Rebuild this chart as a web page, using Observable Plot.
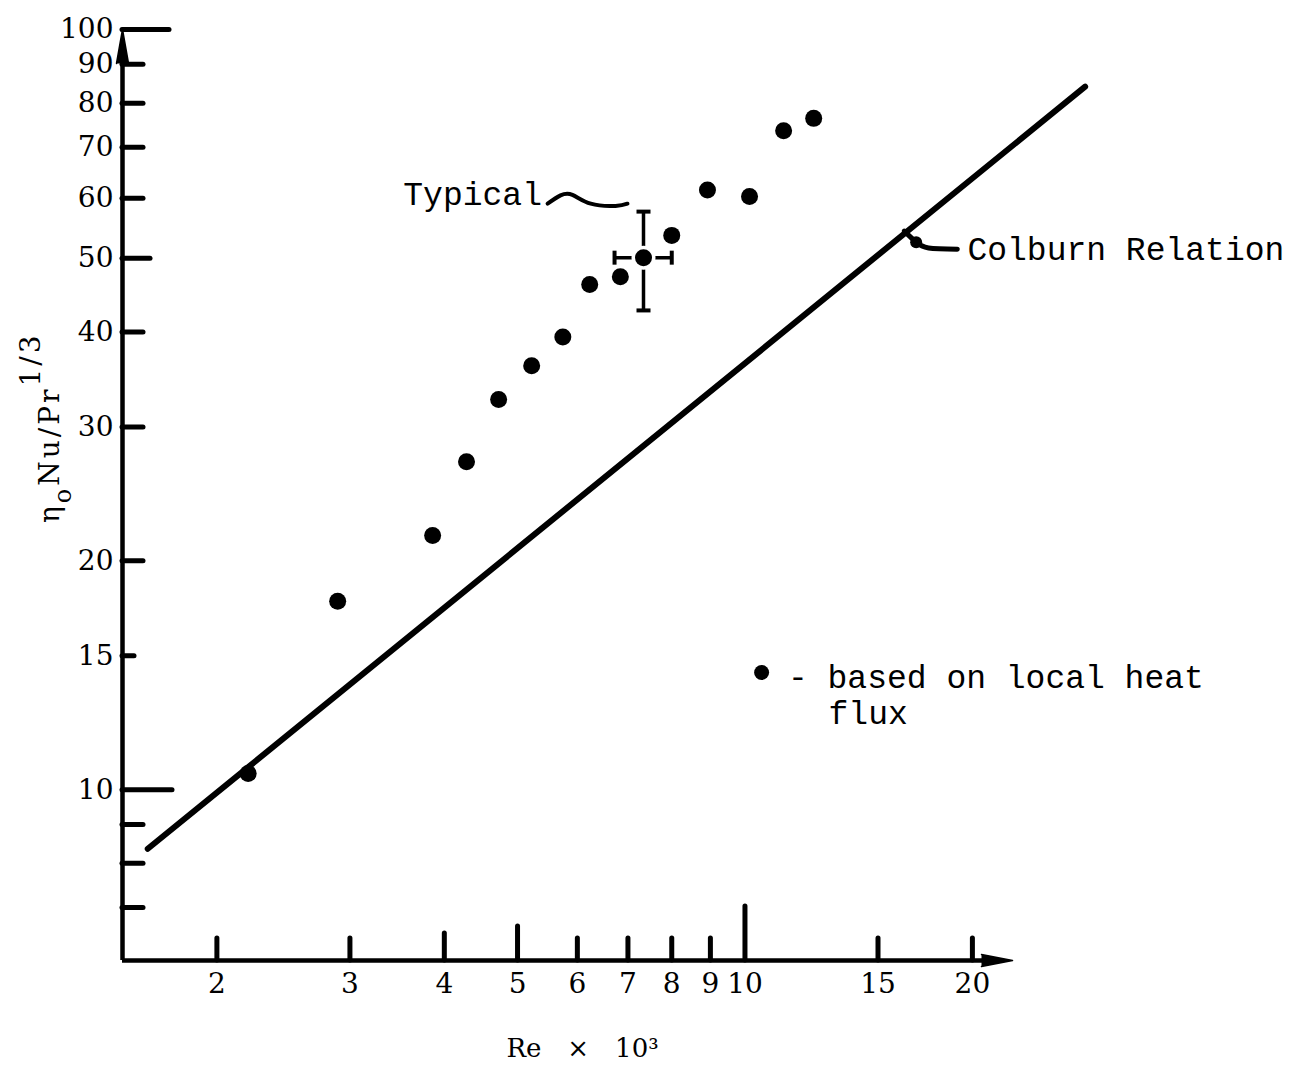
<!DOCTYPE html>
<html>
<head>
<meta charset="utf-8">
<script src="https://cdn.jsdelivr.net/npm/d3@7"></script>
<script src="https://cdn.jsdelivr.net/npm/@observablehq/plot@0.6"></script>
<style>
  html, body { margin: 0; padding: 0; background: #fff; }
</style>
</head>
<body>
<div id="chart"></div>
<script>
// Measured points: Reynolds number (× 10^3) and η_o Nu / Pr^(1/3)
const reValues = [2.20, 2.89, 3.86, 4.28, 4.72, 5.22, 5.74, 6.23, 6.84, 7.34, 8.00, 8.92, 10.14, 11.25, 12.33];
const nuValues = [10.5, 17.7, 21.6, 27.0, 32.6, 36.1, 39.4, 46.2, 47.3, 50.1, 53.6, 61.5, 60.3, 73.6, 76.4];

// Colburn relation, drawn as a straight line on the log-log grid
const colburnRe = [1.62, 28.2];
const colburnNu = [8.36, 84.1];

// Typical uncertainty, shown on one point
const typicalRe = 7.34;
const typicalNu = 50.1;
const typicalReRange = [6.72, 8.0];
const typicalNuRange = [42.7, 57.6];

// Axis ticks
const xTickLabels = [2, 3, 4, 5, 6, 7, 8, 9, 10, 15, 20];
const yTickLabels = [10, 15, 20, 30, 40, 50, 60, 70, 80, 90, 100];
const yMinorTicks = [7, 8, 9];
const xDomain = [1.5, 22.6];
const yDomain = [5.96, 100];

// Annotation anchors (data coordinates)
const typicalLabel = {text: "Typical", re: 3.53, nu: 60.7};
const typicalLeaderRe = [5.48, 5.70, 5.91, 6.25, 6.74, 6.99];
const typicalLeaderNu = [59.0, 60.5, 60.6, 59.0, 58.6, 59.0];
const colburnLabel = {text: "Colburn Relation", re: 19.7, nu: 51.3};
const colburnLeaderRe = [16.25, 16.85, 17.5, 19.1];
const colburnLeaderNu = [54.3, 52.5, 51.6, 51.4];
const legendMarker = {re: 10.52, nu: 14.26};
const legendLines = ["- based on local heat", "flux"];
const legendLineRe = [11.40, 12.9];
const legendLineNu = [14.04, 12.59];

const ink = "#000";
const W = 1308, H = 1067;
const mTop = 29, mRight = 296, mBottom = 107, mLeft = 122;
const frameW = W - mLeft - mRight;
const frameH = H - mTop - mBottom;
const mono = "Liberation Mono, DejaVu Sans Mono, monospace";
const serif = "DejaVu Serif, Liberation Serif, serif";

const points = reValues.map((re, i) => ({re, nu: nuValues[i]}));
const colburn = colburnRe.map((re, i) => ({re, nu: colburnNu[i]}));
const typicalLeader = typicalLeaderRe.map((re, i) => ({re, nu: typicalLeaderNu[i]}));
const colburnLeader = colburnLeaderRe.map((re, i) => ({re, nu: colburnLeaderNu[i]}));
const legendText = legendLines.map((text, i) => ({text, re: legendLineRe[i], nu: legendLineNu[i]}));

// tick lengths (px) drawn inward from the axes
const xTickLen = v => v === 10 ? 54 : v === 5 ? 34 : v === 4 ? 27 : 22;
const yTickLen = v => v === 10 ? 50 : v === 100 ? 47 : v === 50 ? 28 : v === 15 ? 12 : 21;

// short bar symbols for the error-bar caps
const hBar = {draw(ctx, size) { const r = Math.sqrt(size / Math.PI); ctx.moveTo(-r, 0); ctx.lineTo(r, 0); }};
const vBar = {draw(ctx, size) { const r = Math.sqrt(size / Math.PI); ctx.moveTo(0, -r); ctx.lineTo(0, r); }};

const xTicks = xTickLabels.map(v => Plot.tickX([v], {
  x: d => d, insetTop: frameH - xTickLen(v), stroke: ink, strokeWidth: 5, strokeLinecap: "round"
}));
const yTicks = [...yTickLabels, ...yMinorTicks].map(v => Plot.tickY([v], {
  y: d => d, insetRight: frameW - yTickLen(v), stroke: ink, strokeWidth: 5, strokeLinecap: "round"
}));

const chart = Plot.plot({
  width: W,
  height: H,
  marginTop: mTop,
  marginRight: mRight,
  marginBottom: mBottom,
  marginLeft: mLeft,
  style: {background: "#fff", color: ink, fontFamily: serif, fontSize: "28px"},
  x: {type: "log", domain: xDomain, axis: null},
  y: {type: "log", domain: yDomain, axis: null},
  marks: [
    // axes lines with arrowheads
    Plot.ruleY([yDomain[0]], {x1: xDomain[0], x2: 21.2, stroke: ink, strokeWidth: 4.5}),
    Plot.ruleX([xDomain[0]], {y1: yDomain[0], y2: 97, stroke: ink, strokeWidth: 4.5}),
    Plot.vector([0], {x: xDomain[1], y: yDomain[0], rotate: 90, length: 31, anchor: "end",
      shape: "spike", r: 6, fill: ink, stroke: ink, strokeWidth: 1.5}),
    Plot.vector([0], {x: xDomain[0], y: yDomain[1], rotate: 0, length: 34, anchor: "end",
      shape: "spike", r: 6, fill: ink, stroke: ink, strokeWidth: 1.5}),
    ...xTicks,
    ...yTicks,

    // tick labels
    Plot.text(xTickLabels, {x: d => d, y: yDomain[0], dy: 24, text: d => `${d}`, lineAnchor: "middle",
      fontSize: 28, fontFamily: serif, fill: ink}),
    Plot.text(yTickLabels, {x: xDomain[0], y: d => d, dx: -9, text: d => `${d}`,
      textAnchor: "end", lineAnchor: "middle", fontSize: 28, fontFamily: serif, fill: ink}),

    // Colburn relation
    Plot.line(colburn, {x: "re", y: "nu", stroke: ink, strokeWidth: 6, strokeLinecap: "round"}),

    // typical error bars
    Plot.ruleX([typicalRe], {y1: typicalNuRange[0], y2: typicalNuRange[1], stroke: ink, strokeWidth: 3.5}),
    Plot.ruleY([typicalNu], {x1: typicalReRange[0], x2: typicalReRange[1], stroke: ink, strokeWidth: 3.5}),
    Plot.dot(typicalNuRange, {x: typicalRe, y: d => d, symbol: hBar, r: 7, fill: "none", stroke: ink, strokeWidth: 4}),
    Plot.dot(typicalReRange, {x: d => d, y: typicalNu, symbol: vBar, r: 7, fill: "none", stroke: ink, strokeWidth: 4}),
    Plot.dot([typicalRe], {x: d => d, y: typicalNu, r: 12, fill: "#fff"}),

    // measured points
    Plot.dot(points, {x: "re", y: "nu", r: 8.5, fill: ink}),

    // annotations
    Plot.text([typicalLabel], {x: "re", y: "nu", text: "text", textAnchor: "start", lineAnchor: "middle",
      fontFamily: mono, fontSize: 33, fill: ink}),
    Plot.line(typicalLeader, {x: "re", y: "nu", curve: "natural", stroke: ink, strokeWidth: 4, strokeLinecap: "round"}),
    Plot.line(colburnLeader, {x: "re", y: "nu", curve: "natural", stroke: ink, strokeWidth: 5, strokeLinecap: "round"}),
    Plot.dot([colburnLeader[1]], {x: "re", y: "nu", r: 6, fill: ink}),
    Plot.text([colburnLabel], {x: "re", y: "nu", text: "text", textAnchor: "start", lineAnchor: "middle",
      fontFamily: mono, fontSize: 33, fill: ink}),

    // legend
    Plot.dot([legendMarker], {x: "re", y: "nu", r: 7.5, fill: ink}),
    Plot.text(legendText, {x: "re", y: "nu", text: "text", textAnchor: "start", lineAnchor: "middle",
      fontFamily: mono, fontSize: 33, fill: ink}),

    // x-axis title
    Plot.text(["Re\u2003\u00d7\u200310\u00b3"], {frameAnchor: "bottom", dx: 15, dy: 88, lineAnchor: "middle",
      fontFamily: serif, fontSize: 26, fill: ink})
  ]
});

document.getElementById("chart").appendChild(chart);

// y-axis title with subscript and superscript
const yTitle = d3.select(chart).append("text")
  .attr("transform", "translate(59,523) rotate(-90)")
  .attr("text-anchor", "start")
  .attr("font-family", serif)
  .attr("font-size", 28)
  .attr("letter-spacing", 3)
  .attr("fill", ink);
yTitle.append("tspan").text("η");
yTitle.append("tspan").attr("dy", 12).attr("font-size", 24).text("o");
yTitle.append("tspan").attr("dy", -12).text("Nu/Pr");
yTitle.append("tspan").attr("dy", -19).text("1/3");
</script>
</body>
</html>
